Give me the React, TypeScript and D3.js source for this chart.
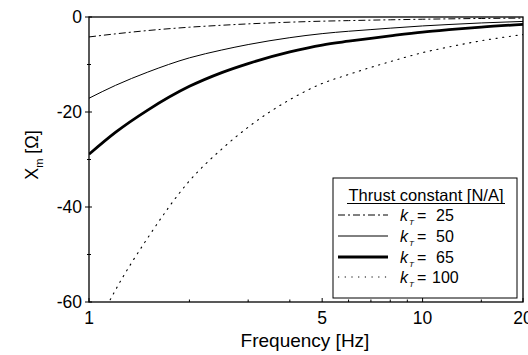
import React from "react";
import * as d3 from "d3";

const freqs = [1, 1.2, 1.5, 2, 2.5, 3, 4, 5, 6, 7, 8, 10, 12, 15, 20];
const k25 = [-4.2, -3.55, -2.85, -2.15, -1.74, -1.45, -1.09, -0.88, -0.76, -0.66, -0.59, -0.47, -0.39, -0.31, -0.23];
const k50 = [-17.1, -14.4, -11.6, -8.6, -6.95, -5.8, -4.35, -3.5, -3.0, -2.65, -2.35, -1.88, -1.58, -1.25, -0.93];
const k65 = [-28.9, -24.3, -19.6, -14.6, -11.7, -9.8, -7.35, -5.9, -5.1, -4.48, -3.97, -3.17, -2.66, -2.11, -1.56];
const k100 = [-68.4, -57.5, -46.5, -34.5, -27.8, -23.2, -17.4, -14.0, -12.1, -10.6, -9.4, -7.5, -6.3, -5.0, -3.7];

const seriesLabels = ["25", "50", "65", "100"];
const xTickLabels = [1, 5, 10, 20];
const xMinorTicks = [2, 3, 4, 6, 7, 8, 9, 15];
const yTickLabels = [0, -20, -40, -60];
const yMinorTicks = [-10, -30, -50];

const W = 528;
const H = 355;
const L = 89, R = 523, T = 17, B = 302;
const FONT = "'Liberation Sans', Arial, Helvetica, sans-serif";

const styles = [
  { w: 1, dash: "7,3,2,3" },
  { w: 1, dash: "none" },
  { w: 2.8, dash: "none" },
  { w: 1.1, dash: "1.2,5.5" },
];

export default function App() {
  const x = d3.scaleLog().domain([1, 20]).range([L, R]);
  const y = d3.scaleLinear().domain([-60, 0]).range([B, T]);
  const all = [k25, k50, k65, k100];
  const line = d3
    .line<number>()
    .x((_, i) => x(freqs[i]))
    .y((d) => y(d))
    .curve(d3.curveMonotoneX);

  const legX = 333, legY = 178, legW = 184, legH = 120;
  const rowY = [216, 237, 258, 278];

  return (
    <svg
      width={W}
      height={H}
      style={{ position: "absolute", left: 0, top: 0, background: "#fff" }}
      fontFamily={FONT}
    >
      <rect x={0} y={0} width={W} height={H} fill="#fff" />
      <defs>
        <clipPath id="plotclip">
          <rect x={L} y={T} width={R - L} height={B - T} />
        </clipPath>
      </defs>
      <g clipPath="url(#plotclip)">
        {all.map((s, i) => (
          <path
            key={i}
            d={line(s) || ""}
            fill="none"
            stroke="#000"
            strokeWidth={styles[i].w}
            strokeDasharray={styles[i].dash}
            strokeLinecap={i === 3 ? "round" : "butt"}
          />
        ))}
      </g>
      {/* frame */}
      <rect x={L} y={T} width={R - L} height={B - T} fill="none" stroke="#000" strokeWidth={1.3} />
      {/* y ticks */}
      {yTickLabels.map((v) => (
        <g key={v}>
          <line x1={L - 4} x2={L + 3} y1={y(v)} y2={y(v)} stroke="#000" strokeWidth={1} />
          <text x={82} y={y(v) + 6} textAnchor="end" fontSize={17.5}>
            {v}
          </text>
        </g>
      ))}
      {yMinorTicks.map((v) => (
        <line key={v} x1={L - 2} x2={L + 2} y1={y(v)} y2={y(v)} stroke="#000" strokeWidth={1} />
      ))}
      {/* x ticks */}
      {xTickLabels.map((v) => (
        <g key={v}>
          <line x1={x(v)} x2={x(v)} y1={B} y2={B - 4} stroke="#000" strokeWidth={1} />
          <text x={x(v)} y={B + 22} textAnchor="middle" fontSize={17.5}>
            {v}
          </text>
        </g>
      ))}
      {xMinorTicks.map((v) => (
        <line key={v} x1={x(v)} x2={x(v)} y1={B} y2={B - 2.5} stroke="#000" strokeWidth={1} />
      ))}
      {/* axis titles */}
      <text x={305} y={347} textAnchor="middle" fontSize={19}>
        Frequency [Hz]
      </text>
      <text transform="translate(38,155) rotate(-90)" textAnchor="middle" fontSize={18}>
        X<tspan fontSize={11} dy={5}>m</tspan>
        <tspan dy={-5}> [Ω]</tspan>
      </text>
      {/* legend */}
      <rect x={legX} y={legY} width={legW} height={legH} fill="#fff" stroke="#000" strokeWidth={1} />
      <text x={426} y={201} textAnchor="middle" fontSize={16.5}>
        Thrust constant [N/A]
      </text>
      <line x1={347} x2={505} y1={203.5} y2={203.5} stroke="#000" strokeWidth={1} />
      {seriesLabels.map((lab, i) => (
        <g key={lab}>
          <line
            x1={338}
            x2={388}
            y1={rowY[i] - 1}
            y2={rowY[i] - 1}
            stroke="#000"
            strokeWidth={styles[i].w}
            strokeDasharray={styles[i].dash}
          />
          <text x={400} y={rowY[i] + 5} fontSize={16} fontStyle="italic">
            k
          </text>
          <text x={409} y={rowY[i] + 9} fontSize={8} fontStyle="italic">
            T
          </text>
          <text x={417} y={rowY[i] + 5} fontSize={16}>
            =
          </text>
          <text x={lab.length === 2 ? 436 : 432} y={rowY[i] + 5} fontSize={16}>
            {lab}
          </text>
        </g>
      ))}
    </svg>
  );
}
